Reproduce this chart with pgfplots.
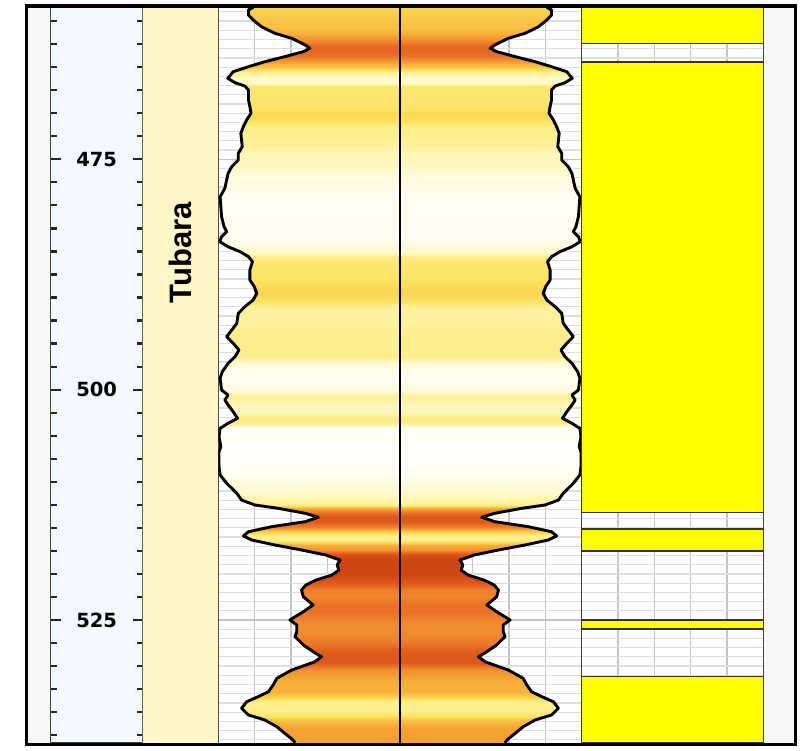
\documentclass[border=0pt]{standalone}
\usepackage{fontspec}
\setmainfont{DejaVu Sans}
\newfontfamily\arialfont{Liberation Sans}
\usepackage{graphicx}
\usepackage{pgfplots}
\usepackage{pgfplotstable}
\pgfplotsset{compat=1.18}

\definecolor{depthbg}{RGB}{244,248,255}
\definecolor{formbg}{RGB}{255,247,200}
\definecolor{stripbg}{RGB}{247,247,247}
\definecolor{gridlight}{RGB}{222,222,222}
\definecolor{gridmid}{RGB}{196,196,196}
\definecolor{lithyellow}{RGB}{255,255,0}

\pgfplotsset{
  colormap={logmap}{rgb255=(255,255,255) rgb255=(255,252,225) rgb255=(254,246,180)
    rgb255=(253,238,140) rgb255=(251,224,90) rgb255=(249,196,70) rgb255=(245,160,50)
    rgb255=(238,128,44) rgb255=(226,98,30) rgb255=(214,78,20) rgb255=(200,64,14)},
  track/.style={anchor=south west, scale only axis, height=735.5pt,
    ymin=458.525, ymax=538.35, y dir=reverse},
}

% depth, half-width of the mirrored log (track spans -5..5), colour index
\pgfplotstableread{
d w c
458.50 4.04 0.45
458.80 4.17 0.45
459.34 4.17 0.47
459.88 4.04 0.50
460.61 3.81 0.50
461.33 3.44 0.55
461.87 2.98 0.62
462.59 2.61 0.75
462.95 2.48 0.78
463.32 2.66 0.78
463.86 3.17 0.72
464.41 3.72 0.60
464.95 4.17 0.50
465.49 4.59 0.30
466.21 4.74 0.15
466.69 4.54 0.15
467.04 4.27 0.35
467.48 4.17 0.36
468.56 4.17 0.36
469.29 4.13 0.38
470.01 4.10 0.42
470.73 4.22 0.40
471.46 4.31 0.30
472.18 4.38 0.30
472.91 4.36 0.28
473.63 4.34 0.25
474.35 4.45 0.20
475.08 4.45 0.18
475.80 4.63 0.18
476.52 4.73 0.12
477.25 4.77 0.10
478.15 4.82 0.08
479.06 4.95 0.05
480.14 4.93 0.04
481.23 4.91 0.05
482.32 4.84 0.04
482.86 4.77 0.06
483.40 4.91 0.04
483.94 4.96 0.08
484.49 4.73 0.12
485.03 4.40 0.15
485.57 4.17 0.30
486.11 4.06 0.36
487.01 4.13 0.36
488.10 4.13 0.38
488.83 4.01 0.42
489.54 3.94 0.44
490.27 4.04 0.40
491.00 4.27 0.28
491.71 4.45 0.25
492.80 4.49 0.26
493.53 4.63 0.28
494.25 4.77 0.30
494.97 4.59 0.30
495.70 4.43 0.30
496.42 4.54 0.30
497.14 4.73 0.12
498.05 4.89 0.06
498.77 4.95 0.05
500.04 4.91 0.10
500.58 4.73 0.25
501.12 4.82 0.25
501.67 4.73 0.18
502.39 4.59 0.18
503.11 4.47 0.33
503.65 4.73 0.30
504.20 4.95 0.05
505.11 4.98 0.02
506.19 4.93 0.02
506.73 4.98 0.02
508.36 4.98 0.02
509.26 4.95 0.05
510.16 4.77 0.12
511.25 4.49 0.15
511.98 4.36 0.22
512.52 3.99 0.30
512.88 3.35 0.55
513.42 2.61 0.75
513.85 2.25 0.85
514.33 2.61 0.82
514.87 3.53 0.70
515.42 4.17 0.45
515.88 4.31 0.30
516.32 4.08 0.30
516.86 3.44 0.55
517.40 2.71 0.65
517.95 2.04 0.88
518.49 1.65 0.95
519.03 1.73 0.97
519.57 1.68 0.95
520.12 1.87 0.95
520.66 2.31 0.88
521.20 2.59 0.80
521.74 2.71 0.70
522.47 2.66 0.68
523.37 2.39 0.75
524.10 2.66 0.75
525.00 3.03 0.68
525.54 2.84 0.66
526.27 2.84 0.66
526.81 2.89 0.68
527.71 2.66 0.75
528.44 2.39 0.82
528.98 2.16 0.85
529.53 2.34 0.85
530.43 2.98 0.65
531.33 3.39 0.58
532.05 3.49 0.55
532.78 3.62 0.55
533.32 3.90 0.45
533.87 4.22 0.30
534.58 4.36 0.28
535.31 4.17 0.35
535.85 3.72 0.50
536.58 3.39 0.58
537.30 3.17 0.60
538.02 2.94 0.60
538.35 2.89 0.60
}\logdata
\pgfplotstablegetrowsof{\logdata}
\edef\nrows{\pgfplotsretval}
\pgfplotstablevertcat{\dup}{\logdata}
\pgfplotstablevertcat{\dup}{\logdata}

\begin{document}
\begin{tikzpicture}[x=1pt,y=1pt]
\useasboundingbox (0,0) rectangle (808,750);
\fill[white] (0,0) rectangle (808,750);
\fill[stripbg] (28,7) rectangle (50.7,742.5);
\fill[stripbg] (763.3,7) rectangle (794,742.5);

% depth track
\begin{axis}[track, at={(50.7pt,7pt)}, width=92pt,
  xmin=0, xmax=1, xtick=\empty,
  axis background/.style={fill=depthbg},
  axis line style={draw=black!75, line width=1.3pt},
  ytick={475,500,525}, minor ytick={460,462.5,...,537.5},
  ytick pos=both, yticklabel pos=left, tick align=inside,
  major tick length=10pt, minor tick length=6pt,
  major tick style={line width=2.2pt, draw=black!85},
  minor tick style={line width=2.2pt, draw=black!85},
  /pgf/number format/assume math mode=true,
  yticklabel style={anchor=center, xshift=46pt, text=black,
    font=\bfseries\fontsize{19.5}{21}\selectfont}]
\addplot[draw=none] coordinates {(0.5,460) (0.5,530)};
\end{axis}

% formation track
\begin{axis}[track, at={(142.7pt,7pt)}, width=75.6pt,
  xmin=0, xmax=1, ticks=none,
  axis background/.style={fill=formbg},
  axis line style={draw=black!60, line width=1pt}]
\addplot[draw=none] coordinates {(0.5,460) (0.5,530)};
\end{axis}
\node[rotate=90, text=black, font=\arialfont\bfseries\fontsize{31}{34}\selectfont]
  at (180.5,497.5) {Tubara};

% log track: grid
\begin{axis}[track, at={(218.3pt,7pt)}, width=363.4pt,
  xmin=-5, xmax=5, xtick={-4,...,4}, ytick={475,500,525},
  minor ytick={459,460,...,538},
  xticklabels={}, yticklabels={}, tick style={draw=none},
  xmajorgrids, ymajorgrids, yminorgrids,
  major grid style={draw=gridmid, line width=1.4pt},
  minor grid style={draw=gridlight, line width=1.2pt},
  axis line style={draw=none}]
\addplot[draw=none] coordinates {(0,460) (0,530)};
\end{axis}

% log track: colour fill between the mirrored curves
\begin{axis}[at={(218.3pt,7pt)}, anchor=south west, scale only axis,
  width=363.4pt, height=735.5pt, view={0}{90}, hide axis,
  xmin=-5, xmax=5, ymin=-538.35, ymax=-458.525, zmin=-1, zmax=1,
  colormap name=logmap, point meta min=0, point meta max=1]
\addplot3[surf, shader=interp, mesh/ordering=y varies,
  mesh/rows=\nrows, mesh/cols=2, point meta=\thisrow{c}]
  table[x expr={\coordindex<\nrows ? -\thisrow{w} : \thisrow{w}},
        y expr=-\thisrow{d}, z expr=0] {\dup};
\end{axis}

% log track: outlines and centre line
\begin{axis}[track, at={(218.3pt,7pt)}, width=363.4pt,
  xmin=-5, xmax=5, ticks=none,
  axis line style={draw=black!70, line width=1pt}]
\addplot[black, line width=2.9pt, line join=round] table[x=w, y=d] {\logdata};
\addplot[black, line width=2.9pt, line join=round] table[x expr=-\thisrow{w}, y=d] {\logdata};
\addplot[black, line width=1.3pt] coordinates {(0,458.525) (0,538.35)};
\end{axis}

% lithology track
\begin{axis}[track, at={(581.7pt,7pt)}, width=181.6pt,
  xmin=0, xmax=5, xtick={1,2,3,4}, ytick={475,500,525},
  minor ytick={459,460,...,538},
  xticklabels={}, yticklabels={}, tick style={draw=none},
  xmajorgrids, ymajorgrids, yminorgrids,
  major grid style={draw=gridmid, line width=1.4pt},
  minor grid style={draw=gridlight, line width=1.2pt},
  axis line style={draw=black!75, line width=1.2pt}]
\addplot[fill=lithyellow, draw=black!80, line width=1.5pt] coordinates {(0,458.525) (5,458.525) (5,462.45) (0,462.45)} -- cycle;
\addplot[fill=lithyellow, draw=black!80, line width=1.5pt] coordinates {(0,464.45) (5,464.45) (5,513.35) (0,513.35)} -- cycle;
\addplot[fill=lithyellow, draw=black!80, line width=1.5pt] coordinates {(0,515.12) (5,515.12) (5,517.51) (0,517.51)} -- cycle;
\addplot[fill=lithyellow, draw=black!80, line width=1.5pt] coordinates {(0,525.0) (5,525.0) (5,525.98) (0,525.98)} -- cycle;
\addplot[fill=lithyellow, draw=black!80, line width=1.5pt] coordinates {(0,531.15) (5,531.15) (5,538.35) (0,538.35)} -- cycle;
\end{axis}

% outer frame
\draw[black, line width=3.5pt] (26.5,5.5) rectangle (795.5,743.8);
\end{tikzpicture}
\end{document}
